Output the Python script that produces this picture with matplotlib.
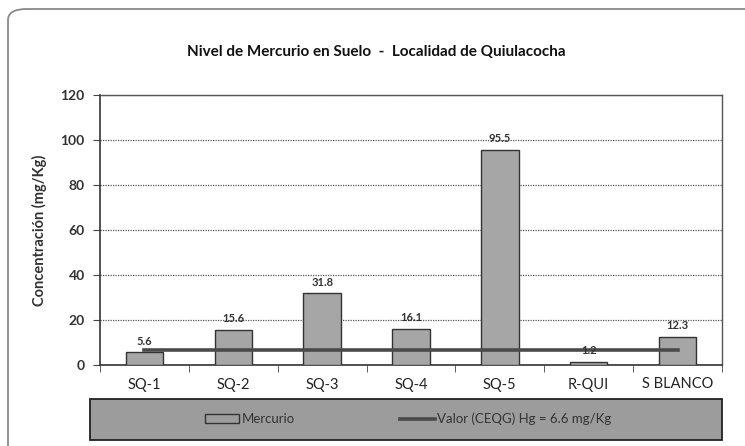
import matplotlib
matplotlib.use("Agg")
import matplotlib.pyplot as plt
from matplotlib.patches import FancyBboxPatch, Rectangle
import numpy as np

categories = ["SQ-1", "SQ-2", "SQ-3", "SQ-4", "SQ-5", "R-QUI", "S BLANCO"]
mercurio = [5.6, 15.6, 31.8, 16.1, 95.5, 1.2, 12.3]
limite = [6.6] * 7
yticks = [0, 20, 40, 60, 80, 100, 120]

plt.rcParams['font.family'] = ['Lato', 'DejaVu Sans']

W, H = 745, 446
fig = plt.figure(figsize=(W / 100, H / 100), dpi=100)
fig.patch.set_facecolor("white")

# outer chart border (only top and left visible)
border = FancyBboxPatch((8 / W, -0.1), 760 / W, 1.1 - 9 / H,
                        boxstyle="round,pad=0,rounding_size=0.025",
                        transform=fig.transFigure, fill=False,
                        edgecolor="#8a8a8a", linewidth=1.3)
fig.patches.append(border)

ax = fig.add_axes([100 / W, (H - 365) / H, 622 / W, 270 / H])
x = np.arange(len(categories))
bars = ax.bar(x, mercurio, width=0.42, color="#a6a6a6", edgecolor="#333333",
              linewidth=1.0, zorder=3, label="Mercurio")
line, = ax.plot(x, limite, color="#4a4a4a", linewidth=2.6, zorder=4,
                label="Valor (CEQG) Hg = 6.6 mg/Kg")

for xi, v in zip(x, mercurio):
    ax.text(xi, v + 2.6, f"{v}", ha="center", va="bottom", fontsize=8,
            fontweight="bold", color="#333333", zorder=5)

ax.set_xlim(-0.5, len(categories) - 0.5)
ax.set_ylim(0, 120)
ax.set_yticks(yticks)
ax.set_yticklabels([str(t) for t in yticks], fontsize=10, fontweight="bold", color="#333333")
ax.yaxis.grid(True, linestyle=(0, (1, 1)), color="#555555", linewidth=0.9, zorder=0)
ax.set_axisbelow(True)

ax.set_xticks(x)
ax.set_xticklabels(categories, fontsize=10.5, color="#222222")
ax.tick_params(axis="x", length=0, pad=9)
ax.set_xticks(np.arange(-0.5, len(categories)), minor=True)
ax.tick_params(axis="x", which="minor", length=5, color="#444444", direction="out")
ax.tick_params(axis="y", length=5, color="#444444", direction="out", pad=6)

for s in ["top", "right"]:
    ax.spines[s].set_color("#555555")
    ax.spines[s].set_linewidth(1.0)
for s in ["left", "bottom"]:
    ax.spines[s].set_color("#333333")
    ax.spines[s].set_linewidth(1.2)

ax.set_ylabel("Concentración (mg/Kg)", fontsize=10.5, fontweight="bold", color="#333333", labelpad=10)

fig.text(376 / W, 1 - 52 / H,
         "Nivel de Mercurio en Suelo  -  Localidad de Quiulacocha",
         ha="center", va="center", fontsize=11, fontweight="bold", color="#111111")

# legend band
band = Rectangle((90 / W, 1 - 440 / H), 632 / W, 41 / H, transform=fig.transFigure,
                 facecolor="#9c9c9c", edgecolor="#222222", linewidth=1.3, zorder=1)
fig.patches.append(band)
leg = fig.legend([bars, line], ["Mercurio", "Valor (CEQG) Hg = 6.6 mg/Kg"],
                 loc="center", bbox_to_anchor=(408 / W, 1 - 419 / H),
                 ncol=2, frameon=False, fontsize=9.5, handlelength=2.6,
                 handletextpad=0.2, columnspacing=8)
for t in leg.get_texts():
    t.set_color("#333333")
leg.legend_handles[0].set_facecolor("#9c9c9c")

fig.savefig("out.png", dpi=100)
